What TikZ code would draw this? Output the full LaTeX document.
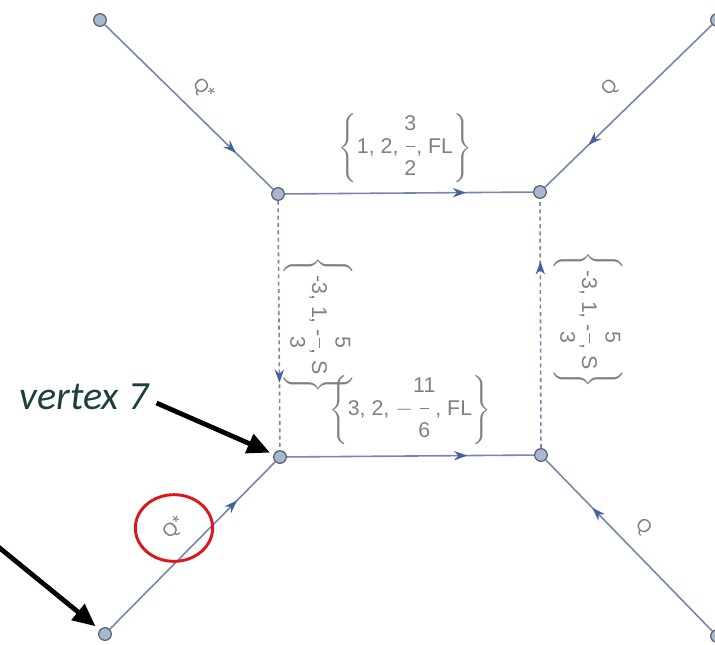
\documentclass[tikz,border=0pt]{standalone}
\usepackage{amsmath}
\usepackage{fontspec}
\setmainfont{Liberation Sans}
\newfontfamily\notefont{Carlito}
\usetikzlibrary{arrows.meta,decorations.markings}
\definecolor{edgecol}{RGB}{118,134,172}
\definecolor{tipcol}{RGB}{68,98,160}
\definecolor{vtxfill}{RGB}{168,182,208}
\definecolor{vtxline}{RGB}{88,94,106}
\definecolor{lblcol}{RGB}{128,128,132}
\definecolor{notecol}{RGB}{28,64,62}
\definecolor{ringcol}{RGB}{222,22,26}
\newcommand{\fr}[2]{\vcenter{\hbox{\begin{tabular}{@{}c@{}}#1\\[-2pt]\rule[0.3em]{0.45em}{0.6pt}\\[-2pt]#2\end{tabular}}}}

\tikzset{
  vtx/.style={circle, draw=vtxline, fill=vtxfill, line width=0.9pt, minimum size=9.5pt, inner sep=0pt},
  fedge/.style={draw=edgecol, line width=1.2pt, postaction={decorate},
    decoration={markings, mark=at position #1 with {\arrow{Stealth[length=10pt,width=7pt,color=tipcol]}}}},
  fedge/.default=0.74,
  ghost/.style={fedge=#1, dash pattern=on 3pt off 2.5pt},
  ghost/.default=0.74,
  qlbl/.style={text=lblcol, font=\fontsize{14}{16}\selectfont, inner sep=1pt},
  lbl/.style={text=lblcol, font=\fontsize{16}{19}\selectfont, inner sep=1pt},
  pointer/.style={-{Triangle[length=17pt,width=15pt]}, line width=3.6pt, black},
}

\begin{document}
\begin{tikzpicture}[x=0.75pt,y=-0.75pt]
    \useasboundingbox (0,0) rectangle (715,644);
    % vertices
    \node[vtx] (v1) at (100,20) {};
    \node[vtx] (v2) at (278,194) {};
    \node[vtx] (v3) at (717,20) {};
    \node[vtx] (v4) at (540,192) {};
    \node[vtx] (v5) at (105,634) {};
    \node[vtx] (v6) at (280,457) {};
    \node[vtx] (v7) at (541,455) {};
    \node[vtx] (v8) at (717,636) {};
    % outer legs
    \draw[fedge=0.78] (v1) -- (v2);
    \draw[fedge=0.74] (v3) -- (v4);
    \draw[fedge=0.77] (v5) -- (v6);
    \draw[fedge=0.72] (v8) -- (v7);
    % box
    \draw[fedge=0.73] (v2) -- (v4);
    \draw[fedge=0.73] (v6) -- (v7);
    \draw[ghost=0.73] (v2) -- (v6);
    \draw[ghost=0.75] (v7) -- (v4);
    % edge labels
    \node[qlbl, rotate=-44] (qtl) at (203,90) {Q*};
    \node[qlbl, rotate=44] (qtr) at (610,88) {Q};
    \node[qlbl, rotate=45] (qbl) at (174,528) {Q*};
    \node[qlbl, rotate=-45] (qbr) at (643,527) {Q};
    \node[lbl] (ltop) at (405,148) {$\left\{\text{1, 2, }\fr{3}{2}\text{, FL}\right\}$};
    \node[lbl] (lbot) at (410,410) {$\left\{\text{3, 2, }{-}\fr{11}{6}\text{, FL}\right\}$};
    \node[lbl, rotate=-90] (lleft) at (318,325) {$\left\{\text{-3, 1, -}\fr{5}{3}\text{, S}\right\}$};
    \node[lbl, rotate=-90] (lright) at (588,320) {$\left\{\text{-3, 1, -}\fr{5}{3}\text{, S}\right\}$};
    % annotations
    \node[text=notecol, font=\notefont\itshape\fontsize{30}{34}\selectfont, inner sep=0pt] (note) at (84,397) {vertex 7};
    \coordinate (tail) at (-4,545);
    \draw[pointer, shorten >=3pt] (note.east) ++(8,6) -- (v6);
    \draw[pointer, shorten >=4pt] (tail) -- (v5);
    \draw[ringcol, line width=2.2pt] (qbl) ellipse [x radius=29pt, y radius=25pt];
\end{tikzpicture}
\end{document}
